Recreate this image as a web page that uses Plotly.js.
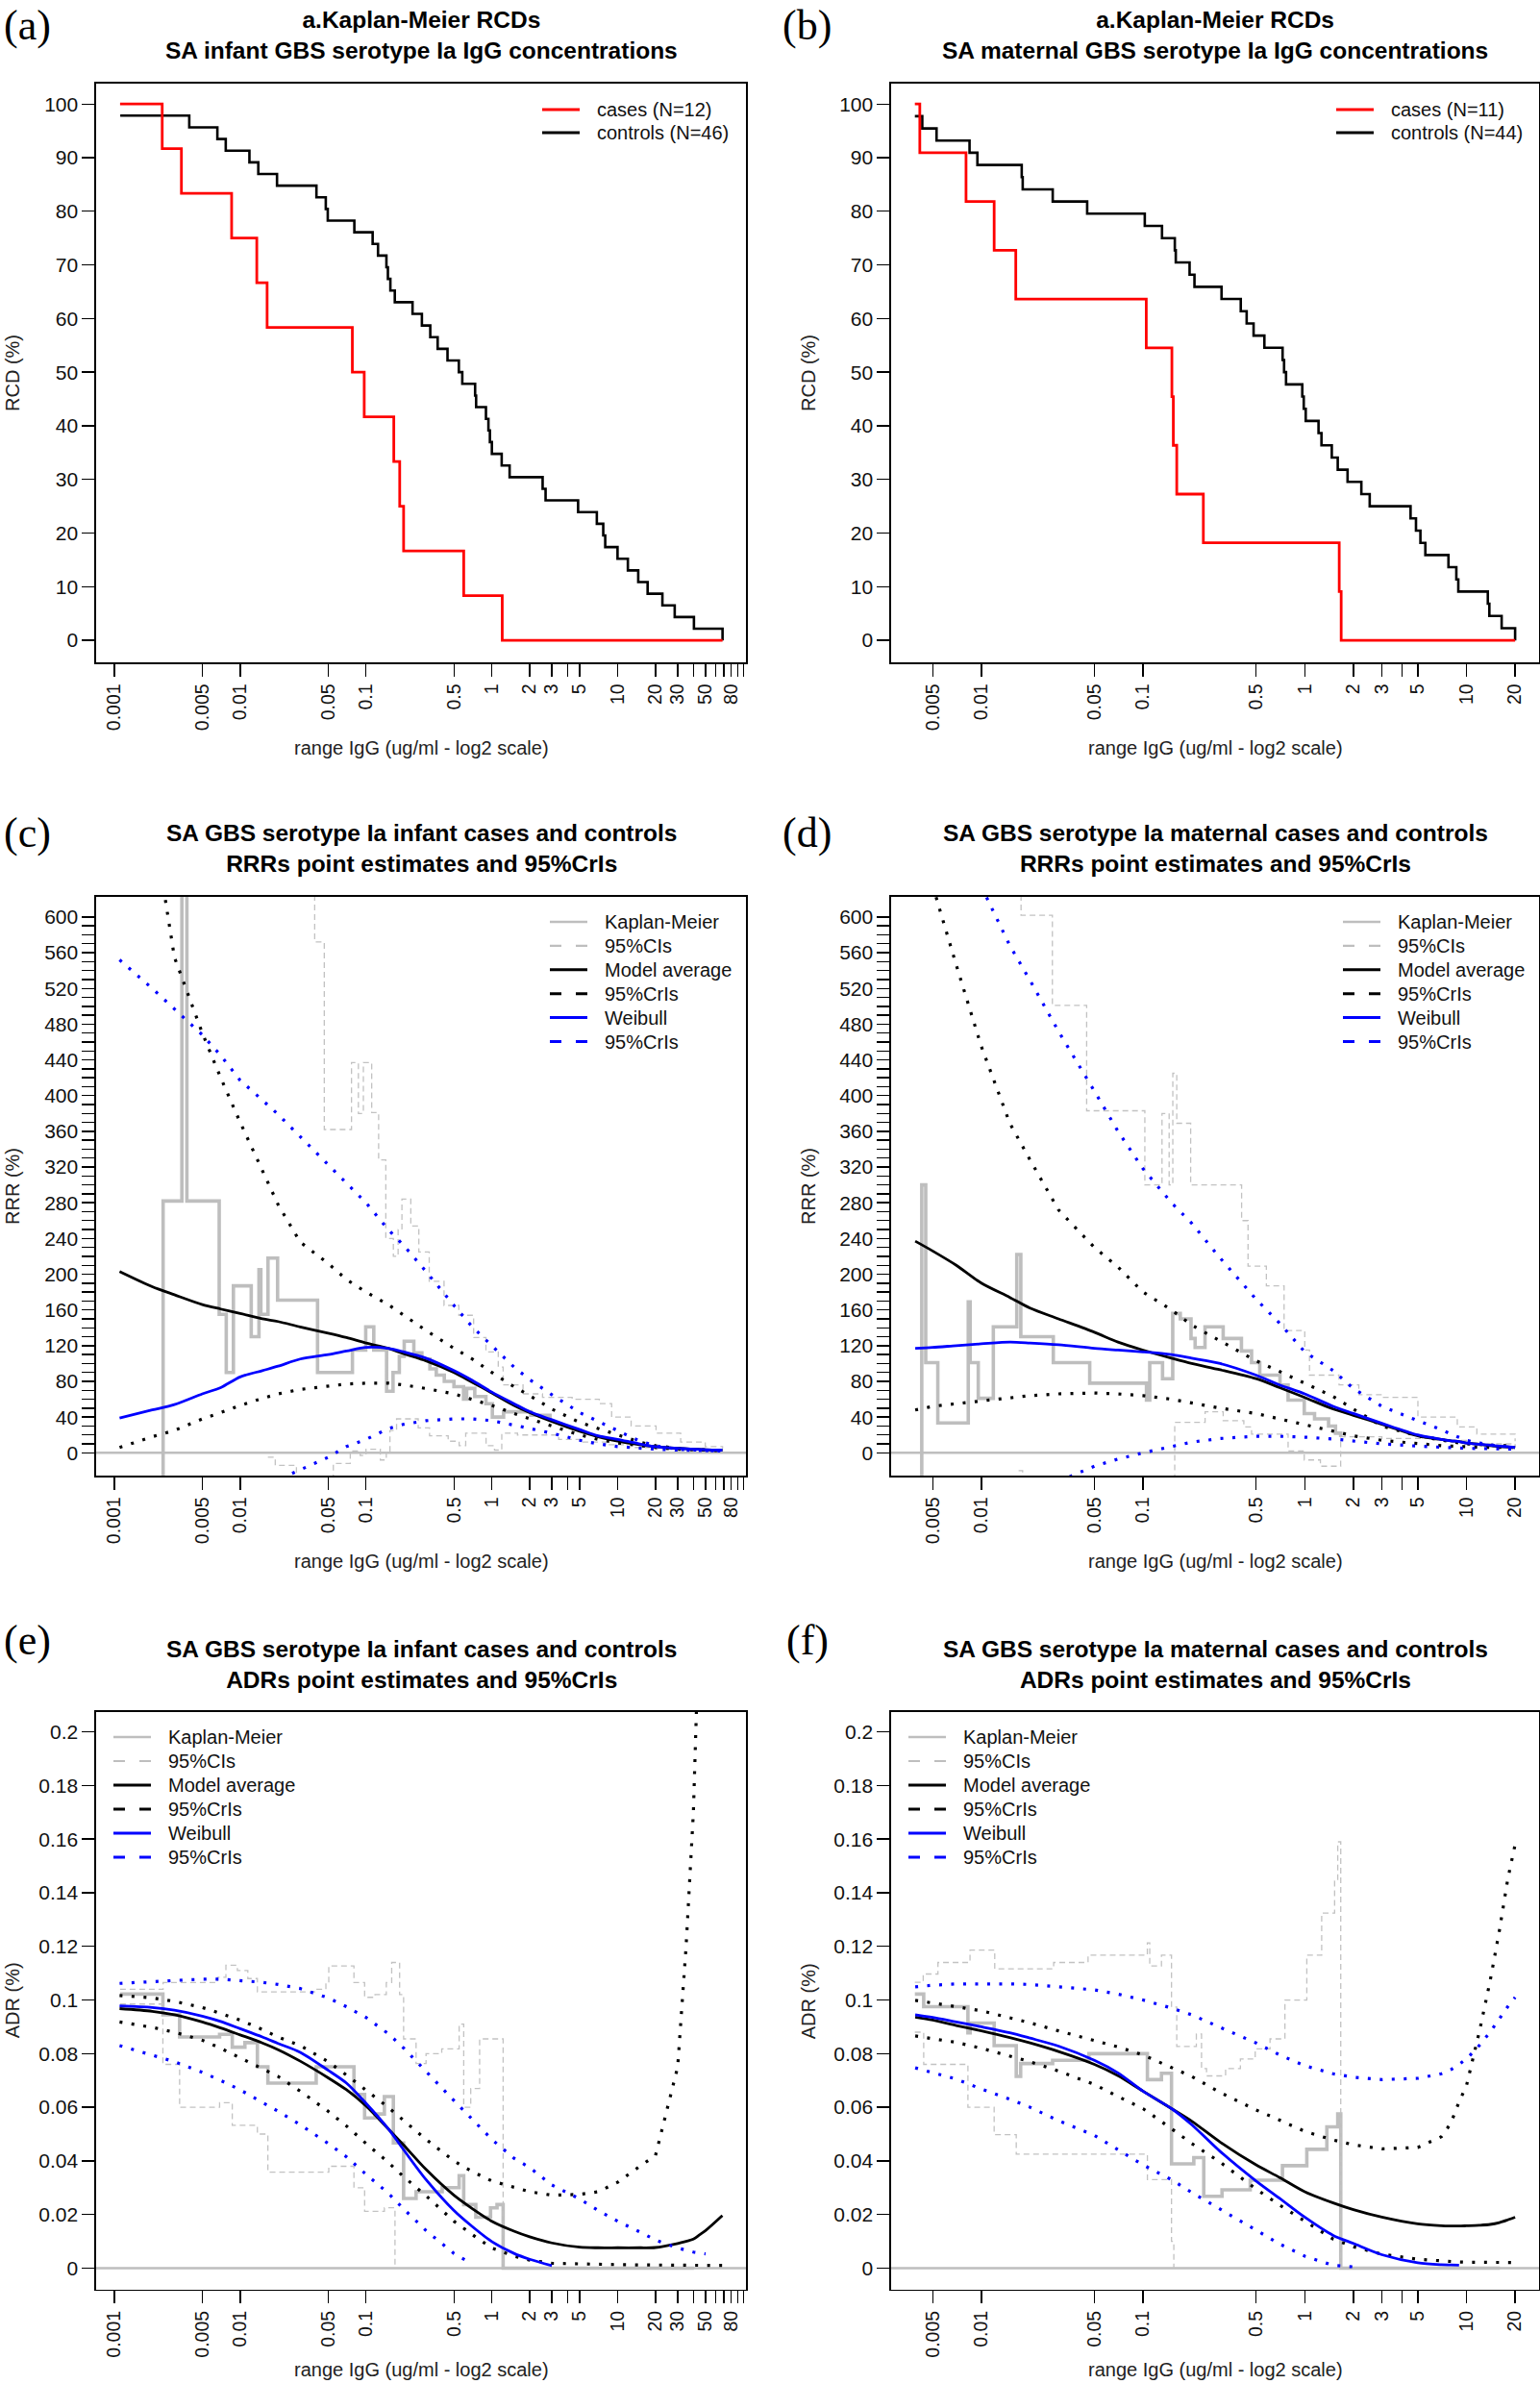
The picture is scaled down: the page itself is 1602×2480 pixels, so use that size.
<!DOCTYPE html>
<html>
<head>
<meta charset="utf-8">
<script src="https://cdn.plot.ly/plotly-3.0.1.min.js"></script>
<style>
  body { margin: 0; background: #fff; }
  #plot { width: 1602px; height: 2480px; }
</style>
</head>
<body>
<div id="plot"></div>
<script>
// ---- (a) infant Kaplan-Meier RCDs ----
var infCasesX = [0.00111, 0.0024, 0.00341, 0.00855, 0.01355, 0.01637, 0.0779, 0.0968, 0.1663, 0.1853, 0.199, 0.598, 1.21, 68.2];
var infCasesY = [100, 91.67, 83.33, 75, 66.67, 58.33, 50, 41.67, 33.33, 25, 16.67, 8.33, 0, 0];
var infCtrlX = [0.001114, 0.003938, 0.006586, 0.007678, 0.01184, 0.01393, 0.01962, 0.04036, 0.0479, 0.04966,
  0.0808, 0.1129, 0.1246, 0.1453, 0.1493, 0.1562, 0.1694, 0.2343, 0.2781, 0.3242,
  0.3711, 0.4445, 0.547, 0.5825, 0.7366, 0.7501, 0.8982, 0.9397, 0.9654, 1.001,
  1.198, 1.385, 2.534, 2.675, 4.852, 6.834, 7.686, 7.969, 9.98, 12.06,
  14.58, 17.31, 22.69, 28.42, 40.4, 68.2];
var infCtrlY = [97.83, 95.65, 93.48, 91.30, 89.13, 86.96, 84.78, 82.61, 80.43, 78.26,
  76.09, 73.91, 71.74, 69.57, 67.39, 65.22, 63.04, 60.87, 58.70, 56.52,
  54.35, 52.17, 50.00, 47.83, 45.65, 43.48, 41.30, 39.13, 36.96, 34.78,
  32.61, 30.43, 28.26, 26.09, 23.91, 21.74, 19.57, 17.39, 15.22, 13.04,
  10.87, 8.70, 6.52, 4.35, 2.17, 0];

// ---- (b) maternal Kaplan-Meier RCDs ----
var matCasesX = [0.00388, 0.004163, 0.00804, 0.012, 0.01633, 0.1047, 0.1508, 0.1539, 0.1616, 0.236, 1.634, 1.68, 20];
var matCasesY = [100, 90.91, 81.82, 72.73, 63.64, 54.55, 45.45, 36.36, 27.27, 18.18, 9.09, 0, 0];
var matCtrlX = [0.00388, 0.004312, 0.005284, 0.008452, 0.009454, 0.01777, 0.01802, 0.02763, 0.04513, 0.1025,
  0.131, 0.1572, 0.1594, 0.194, 0.208, 0.3058, 0.4021, 0.4373, 0.4826, 0.5628,
  0.7295, 0.745, 0.7662, 0.9656, 0.986, 1.014, 1.217, 1.269, 1.47, 1.6,
  1.84, 2.239, 2.522, 4.513, 4.875, 5.193, 5.571, 7.742, 8.661, 8.907,
  13.56, 13.86, 16.51, 20];
var matCtrlY = [97.73, 95.45, 93.18, 90.91, 88.64, 86.36, 84.09, 81.82, 79.55, 77.27,
  75.00, 72.73, 70.45, 68.18, 65.91, 63.64, 61.36, 59.09, 56.82, 54.55,
  52.27, 50.00, 47.73, 45.45, 43.18, 40.91, 38.64, 36.36, 34.09, 31.82,
  29.55, 27.27, 25.00, 22.73, 20.45, 18.18, 15.91, 13.64, 11.36, 9.09,
  6.82, 4.55, 2.27, 0];

// ---- model curves, infant (c: RRR, e: ADR) ----
var infGrid = [0.0011, 0.002, 0.003, 0.005, 0.007, 0.01, 0.015, 0.02, 0.03, 0.05, 0.07, 0.1, 0.15, 0.2, 0.3, 0.5,
  0.7, 1, 1.5, 2, 3, 5, 7, 10, 15, 20, 30, 35, 40, 45, 50, 68];
var infRrrAvg = [203, 186, 177, 166, 161, 156, 150, 147, 141, 134, 129, 123, 117, 111, 103, 90,
  79, 67, 53, 45, 35, 24, 18, 13, 9, 7, 5, null, null, null, 3.5, 3];
var infRrrAvgUp = [null, 712, 555, 470, 420, 370, 315, 278, 236, 212, 194, 180, 166, 154, 137, 117,
  105, 90, 74, 64, 49, 34, 27, 20, 12, 8, 5, null, null, null, 3, 2.5];
var infRrrAvgLo = [6, 18, 25, 38, 45, 53, 61, 66, 71, 75, 77, 78, 78, 76, 72, 66,
  60, 53, 44, 38, 30, 20, 15, 11, 8, 6, 4, null, null, null, 3, 2.5];
var infRrrWei = [39, 48, 54, 66, 73, 85, 92, 97, 105, 110, 114, 118, 117, 113, 106, 92,
  81, 68, 55, 46, 37, 26, 19, 15, 10, 7, 5, null, null, null, 3.5, 3];
var infRrrWeiUp = [552, 520, 497, 468, 445, 417, 395, 379, 354, 322, 302, 280, 250, 232, 203, 165,
  141, 120, 96, 82, 65, 45, 35, 25, 13, 8, 4, null, null, null, 2.5, 2];
var infRrrWeiLo = [null, null, null, null, null, null, -45, -30, -19, -5, 7, 15, 27, 32, 36, 38,
  38, 36, 31, 27, 22, 14, 10, 7, 5, 4, 3, null, null, null, 2, 2];

var infAdrAvg = [0.0968, 0.0958, 0.0945, 0.0918, 0.0896, 0.0870, 0.0840, 0.0815, 0.0772, 0.0710, 0.0665, 0.0605, 0.0520, 0.0458, 0.0368, 0.0272,
  0.0222, 0.0175, 0.0138, 0.0117, 0.0094, 0.0078, 0.0076, 0.0076, 0.0076, 0.0077, 0.0092, 0.0100, 0.0108, 0.0125, 0.0140, 0.0196];
var infAdrAvgUp = [0.1017, 0.1008, 0.0995, 0.0972, 0.0950, 0.0925, 0.0890, 0.0862, 0.0830, 0.0770, 0.0720, 0.0665, 0.0600, 0.0550, 0.0480, 0.0400,
  0.0360, 0.0325, 0.0300, 0.0285, 0.0272, 0.0275, 0.0285, 0.0320, 0.0380, 0.0420, 0.0750, 0.1200, 0.1700, 0.2500, null, null];
var infAdrAvgLo = [0.0918, 0.0898, 0.0880, 0.0850, 0.0820, 0.0785, 0.0745, 0.0715, 0.0660, 0.0585, 0.0530, 0.0465, 0.0395, 0.0340, 0.0270, 0.0175,
  0.0125, 0.0075, 0.0045, 0.0030, 0.0018, 0.0015, 0.0014, 0.0013, 0.0012, 0.0012, 0.0011, 0.0011, 0.0011, 0.0010, 0.0010, 0.0010];
var infAdrWei = [0.0978, 0.0972, 0.0962, 0.0940, 0.0920, 0.0893, 0.0862, 0.0838, 0.0805, 0.0738, 0.0690, 0.0615, 0.0520, 0.0440, 0.0330, 0.0215,
  0.0155, 0.0099, 0.0055, 0.0033, 0.0009, null, null, null, null, null, null, null, null, null, null, null];
var infAdrWeiUp = [0.1062, 0.1068, 0.1072, 0.1078, 0.1078, 0.1073, 0.1066, 0.1058, 0.1043, 0.1008, 0.0975, 0.0935, 0.0875, 0.0820, 0.0732, 0.0625,
  0.0555, 0.0480, 0.0410, 0.0375, 0.0310, 0.0258, 0.0215, 0.0175, 0.0135, 0.0105, 0.0075, 0.0066, 0.0060, 0.0056, 0.0053, null];
var infAdrWeiLo = [0.0830, 0.0795, 0.0770, 0.0730, 0.0700, 0.0665, 0.0620, 0.0585, 0.0535, 0.0465, 0.0415, 0.0350, 0.0280, 0.0220, 0.0140, 0.0055,
  0.0015, null, null, null, null, null, null, null, null, null, null, null, null, null, null, null];

// ---- model curves, maternal (d: RRR, f: ADR) ----
var matGrid = [0.0039, 0.005, 0.007, 0.01, 0.015, 0.02, 0.03, 0.05, 0.07, 0.1, 0.15, 0.2, 0.3, 0.5, 0.7,
  1, 1.5, 2, 3, 5, 7, 8, 9, 10, 12, 14, 16, 18, 20];
var matRrrAvg = [237, 226, 210, 190, 174, 162, 150, 135, 124, 115, 106, 100, 93, 83, 73,
  62, 49, 42, 32, 19, 15, 13.5, 12.5, 11, 9.5, 8, 7, 6.5, 6];
var matRrrAvgUp = [null, 635, 546, 455, 369, 328, 272, 230, 208, 180, 160, 143, 125, 103, 91,
  78, 63, 49, 30, 19, 14, 12.5, 11, 10, 9, 8.5, 8, 8, 8];
var matRrrAvgLo = [48, 52, 55, 58, 62, 64, 66, 67, 66, 64, 60, 56, 50, 44, 38,
  32, 25, 19, 14, 10, 8, 7.5, 7, 6.5, 6.2, 6, 6, 6, 6];
var matRrrWei = [117, 118, 120, 122, 124, 123, 121, 117, 115, 113, 110, 106, 100, 87, 76,
  66, 52, 44, 33, 20, 15, 13.5, 12.5, 11, 9.5, 8.5, 7.5, 7, 6];
var matRrrWeiUp = [null, null, null, 634, 568, 529, 472, 405, 360, 318, 280, 257, 218, 172, 145,
  113, 92, 72, 52, 36, 26, 21, 17, 14, 11, 9, 7.5, 7, 6.5];
var matRrrWeiLo = [null, null, null, null, null, null, -32, -15, -7, 0, 7, 12, 16, 18.5, 18.5,
  17.5, 15.5, 13.5, 10, 7.5, 6, 5.5, 5.2, 5, 4.8, 4.6, 4.4, 4.2, 4];

var matAdrAvg = [0.0936, 0.0925, 0.0905, 0.0885, 0.0860, 0.0840, 0.0808, 0.0760, 0.0718, 0.0660, 0.0595, 0.0548, 0.0470, 0.0385, 0.0338,
  0.0285, 0.0243, 0.0218, 0.0190, 0.0165, 0.0158, 0.0157, 0.0157, 0.0158, 0.0160, 0.0163, 0.0170, 0.0180, 0.0190];
var matAdrAvgUp = [0.0999, 0.0990, 0.0975, 0.0960, 0.0935, 0.0915, 0.0885, 0.0850, 0.0825, 0.0795, 0.0750, 0.0715, 0.0655, 0.0590, 0.0552,
  0.0510, 0.0478, 0.0460, 0.0445, 0.0450, 0.0490, 0.0540, 0.0620, 0.0680, 0.0880, 0.1070, 0.1260, 0.1450, 0.1580];
var matAdrAvgLo = [0.0866, 0.0855, 0.0842, 0.0820, 0.0790, 0.0770, 0.0735, 0.0685, 0.0640, 0.0595, 0.0520, 0.0465, 0.0395, 0.0295, 0.0235,
  0.0175, 0.0108, 0.0080, 0.0052, 0.0033, 0.0026, 0.0024, 0.0023, 0.0022, 0.0021, 0.0021, 0.0021, 0.0021, 0.0021];
var matAdrWei = [0.0945, 0.0935, 0.0918, 0.0900, 0.0878, 0.0858, 0.0828, 0.0775, 0.0728, 0.0660, 0.0595, 0.0535, 0.0435, 0.0325, 0.0260,
  0.0190, 0.0122, 0.0092, 0.0050, 0.0020, 0.0013, 0.0012, 0.0011, null, null, null, null, null, null];
var matAdrWeiUp = [0.1049, 0.1055, 0.1060, 0.1061, 0.1060, 0.1058, 0.1050, 0.1038, 0.1022, 0.1000, 0.0970, 0.0945, 0.0898, 0.0840, 0.0795,
  0.0755, 0.0725, 0.0712, 0.0703, 0.0708, 0.0725, 0.0740, 0.0760, 0.0780, 0.0830, 0.0880, 0.0930, 0.0975, 0.1010];
var matAdrWeiLo = [0.0747, 0.0730, 0.0705, 0.0668, 0.0630, 0.0600, 0.0550, 0.0495, 0.0440, 0.0385, 0.0330, 0.0282, 0.0220, 0.0140, 0.0090,
  0.0045, 0.0010, 0.0005, null, null, null, null, null, null, null, null, null, null, null];

// ---- Kaplan-Meier step estimates and 95% CIs (grey) ----
var infRrrKmX = [0.00244, 0.00244, 0.00344, 0.00377, 0.00681, 0.00775, 0.00883, 0.01224, 0.0141, 0.0146, 0.01663, 0.01983, 0.0412, 0.078,
  0.0995, 0.1153, 0.1458, 0.164, 0.184, 0.2012, 0.24, 0.278, 0.322, 0.362, 0.419, 0.5, 0.596, 0.631, 0.732, 0.898, 1.01, 1.24, 2.04, 2.9];
var infRrrKmY = [-100, 282, 700, 282, 155, 90, 187, 130, 205, 155, 218, 171, 90, 115,
  141, 115, 69, 90, 108, 125, 112, 105, 94, 87, 80, 74, 60, 72, 63, 55, 40, 46, 42, 37];
var infRrrCiUpX = [0.0391, 0.0391, 0.0466, 0.0767, 0.087, 0.0953, 0.111, 0.126, 0.1437, 0.165, 0.18, 0.193, 0.227, 0.263, 0.318, 0.417,
  0.547, 0.717, 0.898, 1.125, 1.23, 1.77, 2.53, 4.35, 7.15, 8.96, 12.8, 20.2, 31.7, 49.7, 68.2];
var infRrrCiUpY = [700, 572, 362, 437, 380, 437, 381, 328, 240, 220, 250, 284, 254, 225, 192, 165,
  154, 129, 113, 96, 76, 66, 62, 60, 55, 40, 30, 22, 12, 7, 5];
var infRrrCiLoX = [0.0166, 0.019, 0.028, 0.055, 0.075, 0.09, 0.1, 0.13, 0.145, 0.155, 0.175, 0.26, 0.32, 0.45, 0.55, 0.62,
  0.75, 0.9, 1.05, 1.2, 1.6, 2.5, 3.4, 5, 8, 12, 20, 35, 68.2];
var infRrrCiLoY = [-5, -14, -35, -12, 2, -3, 4, -8, 0, 25, 38, 28, 19, 13, 8, 22,
  22, 8, 3, 22, 20, 20, 15, 12, 9, 6, 4, 3, 2];

var matRrrKmX = [0.00428, 0.00428, 0.00453, 0.00538, 0.0083, 0.00853, 0.00957, 0.01186, 0.01656, 0.01754, 0.02786, 0.0468, 0.105, 0.11,
  0.132, 0.1526, 0.17, 0.198, 0.21, 0.2417, 0.313, 0.406, 0.469, 0.527, 0.703, 0.789, 0.993, 1.15, 1.404, 1.55, 1.668];
var matRrrKmY = [-100, 300, 101, 33.5, 169, 101, 61, 141, 222, 130, 101, 78, 59, 101,
  83, 156, 150, 128, 118, 141, 128, 114, 101, 87, 76, 59, 44, 38, 30, 22, 17.6];
var matRrrCiUpX = [0.0176, 0.0176, 0.0275, 0.0448, 0.1026, 0.131, 0.145, 0.1528, 0.1616, 0.197, 0.407, 0.446, 0.579, 0.745,
  1.0, 1.07, 1.63, 2.16, 3.07, 5.01, 8.78, 11.6, 20];
var matRrrCiUpY = [700, 602, 501, 383, 300, 380, 300, 425, 369, 300, 260, 209, 187, 137,
  115, 87, 76, 65, 62, 40, 29, 21, 13];
var matRrrCiLoX = [0.0170, 0.0180, 0.152, 0.157, 0.242, 0.313, 0.42, 0.469, 0.789, 0.993, 1.25, 1.668, 3, 6, 10, 20];
var matRrrCiLoY = [-20, -40, -40, 34, 46, 36, 29, 21, 2, -8, -15, 18, 16, 14, 10, 6];

var infAdrKmX = [0.00111, 0.00243, 0.0033, 0.00686, 0.00865, 0.0109, 0.0137, 0.0166, 0.0402, 0.0802, 0.0975, 0.118,
  0.14, 0.165, 0.199, 0.25, 0.403, 0.55, 0.598, 0.746, 0.977, 1.1, 1.23, 40.4];
var infAdrKmY = [0.1022, 0.0945, 0.0862, 0.0872, 0.0824, 0.0841, 0.0751, 0.0690, 0.0751, 0.0648, 0.0560, 0.0575,
  0.0640, 0.0467, 0.0260, 0.0285, 0.0300, 0.0345, 0.0237, 0.0190, 0.0225, 0.0237, 0, 0];
var infAdrCiUpX = [0.00111, 0.00244, 0.0066, 0.0077, 0.0095, 0.0115, 0.0137, 0.0402, 0.048, 0.0506, 0.0802, 0.0975, 0.118,
  0.145, 0.16, 0.185, 0.199, 0.25, 0.3, 0.4, 0.55, 0.598, 0.68, 0.8, 1.23];
var infAdrCiUpY = [0.1040, 0.1065, 0.1085, 0.1130, 0.1110, 0.1080, 0.1030, 0.1040, 0.1065, 0.1127, 0.1065, 0.1010, 0.1020,
  0.1065, 0.1140, 0.1020, 0.0855, 0.0763, 0.0800, 0.0818, 0.0910, 0.0600, 0.0670, 0.0855, 0];
var infAdrCiLoX = [0.00111, 0.00243, 0.0033, 0.00686, 0.00865, 0.0137, 0.0166, 0.0402, 0.0506, 0.0802, 0.0975, 0.14, 0.17];
var infAdrCiLoY = [0.0985, 0.0760, 0.0600, 0.0617, 0.0533, 0.0500, 0.0358, 0.0358, 0.0380, 0.0300, 0.0212, 0.0225, 0];

var matAdrKmX = [0.00388, 0.0044, 0.00826, 0.00853, 0.012, 0.01644, 0.0175, 0.0276, 0.0463, 0.1064, 0.13,
  0.15, 0.206, 0.2374, 0.308, 0.46, 0.728, 1.03, 1.37, 1.6, 1.67, 16.1];
var matAdrKmY = [0.1022, 0.0975, 0.0878, 0.0914, 0.0830, 0.0715, 0.0763, 0.0775, 0.0800, 0.0703, 0.0727,
  0.0389, 0.0412, 0.0268, 0.0292, 0.0328, 0.0382, 0.0443, 0.0527, 0.0575, 0, 0];
var matAdrCiUpX = [0.00388, 0.00437, 0.00539, 0.00851, 0.0121, 0.028, 0.0457, 0.1063, 0.11, 0.13, 0.15, 0.1616, 0.2136,
  0.23, 0.247, 0.324, 0.4, 0.494, 0.61, 0.754, 1.03, 1.273, 1.53, 1.6, 1.67];
var matAdrCiUpY = [0.1066, 0.1097, 0.1140, 0.1186, 0.1116, 0.1140, 0.1167, 0.1213, 0.1127, 0.1167, 0.0974, 0.0827, 0.0873,
  0.0744, 0.0717, 0.0744, 0.0780, 0.0818, 0.0855, 0.1000, 0.1167, 0.1324, 0.1443, 0.1590, 0];
var matAdrCiLoX = [0.00388, 0.0044, 0.00826, 0.012, 0.01644, 0.1064, 0.15, 0.155];
var matAdrCiLoY = [0.0880, 0.0760, 0.0600, 0.0498, 0.0425, 0.0330, 0.0100, 0];

// ---- ticks and text ----
var infXTicks = [0.001, 0.005, 0.01, 0.05, 0.1, 0.5, 1, 2, 3, 4, 5, 10, 20, 30, 40, 50, 60, 70, 80, 90, 100];
var infXLabels = ['0.001', '0.005', '0.01', '0.05', '0.1', '0.5', '1', '2', '3', '', '5', '10', '20', '30', '', '50', '', '', '80', '', ''];
var matXTicks = [0.005, 0.01, 0.05, 0.1, 0.5, 1, 2, 3, 4, 5, 10, 20];
var matXLabels = ['0.005', '0.01', '0.05', '0.1', '0.5', '1', '2', '3', '', '5', '10', '20'];
var rcdTicks = [0, 10, 20, 30, 40, 50, 60, 70, 80, 90, 100];
var rrrTicks = [];
for (var t = 0; t <= 600; t += 10) rrrTicks.push(t);
var adrTicks = [0, 0.02, 0.04, 0.06, 0.08, 0.1, 0.12, 0.14, 0.16, 0.18, 0.2];
var adrLabels = ['0', '0.02', '0.04', '0.06', '0.08', '0.1', '0.12', '0.14', '0.16', '0.18', '0.2'];

var titles = [
  'a.Kaplan-Meier RCDs<br>SA infant GBS serotype Ia IgG concentrations',
  'a.Kaplan-Meier RCDs<br>SA maternal GBS serotype Ia IgG concentrations',
  'SA GBS serotype Ia infant cases and controls<br>RRRs point estimates and 95%CrIs',
  'SA GBS serotype Ia maternal cases and controls<br>RRRs point estimates and 95%CrIs',
  'SA GBS serotype Ia infant cases and controls<br>ADRs point estimates and 95%CrIs',
  'SA GBS serotype Ia maternal cases and controls<br>ADRs point estimates and 95%CrIs'
];
var panelTags = ['(a)', '(b)', '(c)', '(d)', '(e)', '(f)'];
var yTitles = ['RCD (%)', 'RCD (%)', 'RRR (%)', 'RRR (%)', 'ADR (%)', 'ADR (%)'];
var xTitle = 'range IgG (ug/ml - log2 scale)';
var kmLegend = [['cases (N=12)', 'controls (N=46)'], ['cases (N=11)', 'controls (N=44)']];
var modelLegend = ['Kaplan-Meier', '95%CIs', 'Model average', '95%CrIs', 'Weibull', '95%CrIs'];

// ---- layout geometry (pixels of the 1602x2480 page) ----
var W = 1602, H = 2480;
var FONT = 'Liberation Sans, Arial, sans-serif';
var GRAY = '#bebebe';
var CIGRAY = '#c2c2c2';
function px(v) { return v / W; }
function py(v) { return 1 - v / H; }

var cols = [[100, 776], [927, 1601]];
var rows = [[87, 689], [933, 1535], [1781, 2381.5]];
var rowTop = [0, 840, 1680];
var xRanges = [[-3.145, 2.02], [-2.558, 1.449]];
var yRanges = [[-4.1, 103.8], [-25.5, 622.5], [-0.0079, 0.2074]];

var ids = ['', '2', '3', '4', '5', '6'];
var traces = [];

function stepLine(x, y, k, color, width, dash) {
  traces.push({
    type: 'scatter', mode: 'lines', x: x, y: y, xaxis: 'x' + ids[k], yaxis: 'y' + ids[k],
    line: {color: color, width: width, dash: dash || 'solid', shape: 'hv'},
    showlegend: false, hoverinfo: 'skip'
  });
}
function curve(x, y, k, color, width, dash) {
  traces.push({
    type: 'scatter', mode: 'lines', x: x, y: y, xaxis: 'x' + ids[k], yaxis: 'y' + ids[k],
    connectgaps: true,
    line: {color: color, width: width, dash: dash || 'solid', shape: dash ? 'linear' : 'spline', smoothing: 0.8},
    showlegend: false, hoverinfo: 'skip'
  });
}

var DOT = '3px,9.5px';
var CIDASH = '6px,4px';

// (a), (b)
stepLine(infCtrlX, infCtrlY, 0, '#000', 2.6);
stepLine(infCasesX, infCasesY, 0, '#ff0000', 2.8);
stepLine(matCtrlX, matCtrlY, 1, '#000', 2.6);
stepLine(matCasesX, matCasesY, 1, '#ff0000', 2.8);

function modelPanel(k, grid, km, ciUp, ciLo, avg, avgUp, avgLo, wei, weiUp, weiLo) {
  stepLine(km[0], km[1], k, GRAY, 3.6);
  stepLine(ciUp[0], ciUp[1], k, CIGRAY, 1.3, CIDASH);
  stepLine(ciLo[0], ciLo[1], k, CIGRAY, 1.3, CIDASH);
  curve(grid, avg, k, '#000', 2.8);
  curve(grid, avgUp, k, '#000', 3.2, DOT);
  curve(grid, avgLo, k, '#000', 3.2, DOT);
  curve(grid, wei, k, '#0000ff', 2.8);
  curve(grid, weiUp, k, '#0000ff', 3.2, DOT);
  curve(grid, weiLo, k, '#0000ff', 3.2, DOT);
}
modelPanel(2, infGrid, [infRrrKmX, infRrrKmY], [infRrrCiUpX, infRrrCiUpY], [infRrrCiLoX, infRrrCiLoY],
  infRrrAvg, infRrrAvgUp, infRrrAvgLo, infRrrWei, infRrrWeiUp, infRrrWeiLo);
modelPanel(3, matGrid, [matRrrKmX, matRrrKmY], [matRrrCiUpX, matRrrCiUpY], [matRrrCiLoX, matRrrCiLoY],
  matRrrAvg, matRrrAvgUp, matRrrAvgLo, matRrrWei, matRrrWeiUp, matRrrWeiLo);
modelPanel(4, infGrid, [infAdrKmX, infAdrKmY], [infAdrCiUpX, infAdrCiUpY], [infAdrCiLoX, infAdrCiLoY],
  infAdrAvg, infAdrAvgUp, infAdrAvgLo, infAdrWei, infAdrWeiUp, infAdrWeiLo);
modelPanel(5, matGrid, [matAdrKmX, matAdrKmY], [matAdrCiUpX, matAdrCiUpY], [matAdrCiLoX, matAdrCiLoY],
  matAdrAvg, matAdrAvgUp, matAdrAvgLo, matAdrWei, matAdrWeiUp, matAdrWeiLo);

var layout = {
  width: W, height: H, margin: {l: 0, r: 0, t: 0, b: 0},
  paper_bgcolor: '#fff', plot_bgcolor: '#fff', showlegend: false,
  font: {family: FONT, color: '#111'},
  annotations: [], shapes: []
};

// legend keys drawn R-style (no box): sample line start px, first row centre px, row step
var legendPos = [[564, 114, 24], [1390, 114, 24], [572, 959, 24.9], [1397, 959, 24.9], [118, 1807, 25], [945, 1807, 25]];
var modelKeyStyle = [[GRAY, 2.6, 'solid'], [GRAY, 2.2, '12px,15px'], ['#000', 3, 'solid'],
  ['#000', 3, '12px,15px'], ['#0000ff', 3, 'solid'], ['#0000ff', 3, '12px,15px']];
var kmKeyStyle = [['#ff0000', 2.8, 'solid'], ['#000', 2.8, 'solid']];

function addKey(lx, ly, label, style) {
  layout.shapes.push({
    type: 'line', xref: 'paper', yref: 'paper', x0: px(lx), x1: px(lx + 39), y0: py(ly), y1: py(ly),
    line: {color: style[0], width: style[1], dash: style[2]}
  });
  layout.annotations.push({
    text: label, xref: 'paper', yref: 'paper', x: px(lx + 55), y: py(ly),
    xanchor: 'left', yanchor: 'middle', showarrow: false,
    font: {family: FONT, size: 20, color: '#111'}
  });
}

for (var k = 0; k < 6; k++) {
  var c = k % 2, r = Math.floor(k / 2);
  var col = cols[c], row = rows[r];
  var yTicks = r === 0 ? rcdTicks : (r === 1 ? rrrTicks : adrTicks);
  var yLabels = r === 0 ? rcdTicks.map(String) :
    (r === 1 ? rrrTicks.map(function (v) { return v % 40 === 0 ? String(v) : ''; }) : adrLabels);

  layout['xaxis' + ids[k]] = {
    domain: [px(col[0]), px(col[1])], anchor: 'y' + ids[k], type: 'log', range: xRanges[c],
    tickmode: 'array', tickvals: c === 0 ? infXTicks : matXTicks, ticktext: c === 0 ? infXLabels : matXLabels,
    tickangle: -90, ticks: 'outside', ticklen: 13, tickwidth: 1.4, tickcolor: '#000',
    showline: true, mirror: true, linecolor: '#000', linewidth: 1.6,
    showgrid: false, zeroline: false, fixedrange: true,
    tickfont: {family: FONT, size: 19.5, color: '#111'}
  };
  layout['yaxis' + ids[k]] = {
    domain: [py(row[1]), py(row[0])], anchor: 'x' + ids[k], range: yRanges[r],
    tickmode: 'array', tickvals: yTicks, ticktext: yLabels,
    ticks: 'outside', ticklen: 13, tickwidth: 1.4, tickcolor: '#000',
    showline: true, mirror: true, linecolor: '#000', linewidth: 1.6,
    showgrid: false, zeroline: false, fixedrange: true,
    tickfont: {family: FONT, size: 21, color: '#111'}
  };

  var cx = (col[0] + col[1]) / 2;
  var cy = (row[0] + row[1]) / 2;
  layout.annotations.push({
    text: '<b>' + titles[k] + '</b>', xref: 'paper', yref: 'paper',
    x: px(cx), y: py(row[0] - 50), xanchor: 'center', yanchor: 'middle',
    showarrow: false, font: {family: FONT, size: 24.5, color: '#000'}
  });
  layout.annotations.push({
    text: panelTags[k], xref: 'paper', yref: 'paper',
    x: px(c === 0 ? 28 : 840), y: py(rowTop[r]),
    xanchor: 'center', yanchor: 'top', showarrow: false,
    font: {family: 'Liberation Serif, Times New Roman, serif', size: 44, color: '#000'}
  });
  layout.annotations.push({
    text: yTitles[k], xref: 'paper', yref: 'paper', x: px(c === 0 ? 13 : 841), y: py(cy),
    xanchor: 'center', yanchor: 'middle', textangle: -90, showarrow: false,
    font: {family: FONT, size: 20, color: '#222'}
  });
  layout.annotations.push({
    text: xTitle, xref: 'paper', yref: 'paper', x: px(cx), y: py(r === 2 ? 2465 : row[1] + 89),
    xanchor: 'center', yanchor: 'middle', showarrow: false,
    font: {family: FONT, size: 20, color: '#222'}
  });
  if (r > 0) {
    layout.shapes.push({
      type: 'line', xref: 'x' + ids[k] + ' domain', yref: 'y' + ids[k],
      x0: 0, x1: 1, y0: 0, y1: 0, layer: 'below',
      line: {color: GRAY, width: 2.5}
    });
  }

  var lp = legendPos[k];
  var names = r === 0 ? kmLegend[c] : modelLegend;
  var styles = r === 0 ? kmKeyStyle : modelKeyStyle;
  for (var i = 0; i < names.length; i++) {
    addKey(lp[0], lp[1] + i * lp[2], names[i], styles[i]);
  }
}

Plotly.newPlot('plot', traces, layout, {displayModeBar: false, staticPlot: true});
</script>
</body>
</html>
